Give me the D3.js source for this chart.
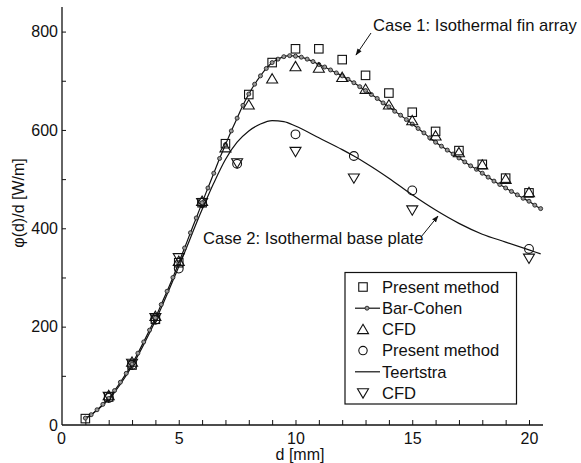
<!DOCTYPE html>
<html>
<head>
<meta charset="utf-8">
<script src="https://cdn.jsdelivr.net/npm/d3@7"></script>
<style>
  html, body { margin: 0; padding: 0; background: #fff; }
  svg { display: block; font-family: "Liberation Sans", Arial, sans-serif; }
</style>
</head>
<body>
<svg id="chart" width="581" height="463"></svg>
<script>
// Case 1: isothermal fin array
const case1D = [1, 2, 3, 4, 5, 6, 7, 8, 9, 10, 11, 12, 13, 14, 15, 16, 17, 18, 19, 20];
const case1Present = [13, 57, 122, 215, 330, 452, 572, 672, 737, 765, 765, 743, 711, 675, 636, 597, 558, 530, 502, 472];
const case1CfdD = [2, 3, 4, 5, 6, 7, 8, 9, 10, 11, 12, 13, 14, 15, 16, 17, 18, 19, 20];
const case1Cfd = [60, 128, 221, 333, 455, 564, 651, 704, 729, 726, 707, 683, 651, 619, 588, 554, 529, 500, 473];

// Bar-Cohen correlation, sampled every 0.25 mm from 1 to 20.5 mm
const barCohenD = [1, 1.25, 1.5, 1.75, 2, 2.25, 2.5, 2.75, 3, 3.25, 3.5, 3.75, 4, 4.25, 4.5, 4.75,
  5, 5.25, 5.5, 5.75, 6, 6.25, 6.5, 6.75, 7, 7.25, 7.5, 7.75, 8, 8.25, 8.5, 8.75,
  9, 9.25, 9.5, 9.75, 10, 10.25, 10.5, 10.75, 11, 11.25, 11.5, 11.75, 12, 12.25, 12.5, 12.75,
  13, 13.25, 13.5, 13.75, 14, 14.25, 14.5, 14.75, 15, 15.25, 15.5, 15.75, 16, 16.25, 16.5, 16.75,
  17, 17.25, 17.5, 17.75, 18, 18.25, 18.5, 18.75, 19, 19.25, 19.5, 19.75, 20, 20.25, 20.5];
const barCohen = [14, 21, 31, 42, 54, 70, 87, 105, 124, 146, 169, 193, 218, 245, 272, 300,
  330, 360, 391, 421, 452, 482, 512, 542, 570, 598, 624, 650, 673, 693, 710, 725,
  737, 744, 749, 751, 750, 748, 744, 739, 733, 728, 722, 716, 710, 703, 696, 688,
  680, 672, 664, 655, 647, 638, 630, 621, 612, 603, 594, 584, 575, 567, 559, 551,
  543, 535, 527, 520, 512, 504, 496, 489, 482, 475, 468, 461, 455, 447, 440];

// Case 2: isothermal base plate
const case2D = [2, 3, 4, 5, 6, 7.5, 10, 12.5, 15, 20];
const case2Present = [55, 122, 214, 318, 452, 531, 591, 547, 477, 358];
const case2Cfd = [58, 125, 218, 340, 452, 533, 556, 502, 437, 339];

// Teertstra correlation
const teertstraD = [1, 2, 3, 4, 5, 6, 6.5, 7, 7.5, 8, 8.5, 9, 9.5, 10, 11, 12, 12.5, 13, 14, 15, 16, 17, 18, 19, 20, 20.5];
const teertstra = [12, 52, 120, 212, 322, 438, 492, 540, 575, 598, 612, 619, 617, 608, 584, 560, 547, 533, 502, 468, 437, 410, 388, 372, 356, 348];

const xTickLabels = [0, 5, 10, 15, 20];
const yTickLabels = [0, 200, 400, 600, 800];

const legendLabels = ["Present method", "Bar-Cohen", "CFD", "Present method", "Teertstra", "CFD"];

const svg = d3.select("#chart");
const x = d3.scaleLinear().domain([0, 20.6]).range([62, 543]);
const y = d3.scaleLinear().domain([0, 850]).range([425, 7]);
const ink = "#111";
const fontSize = 16;
const textSize = 16.6;

// axes: ticks point inward, labels only on major ticks
const xAxis = d3.axisBottom(x)
  .tickValues(d3.range(0, 21, 1))
  .tickSize(-5)
  .tickPadding(8)
  .tickFormat(d => xTickLabels.includes(d) ? d : "");
const gx = svg.append("g").attr("transform", `translate(0,${y(0)})`).call(xAxis);
gx.select(".domain").attr("d", `M${x(0)},0H${x(20.6)}`);

const yAxis = d3.axisLeft(y)
  .tickValues(d3.range(0, 801, 100))
  .tickSize(-4)
  .tickPadding(4)
  .tickFormat(d => yTickLabels.includes(d) ? d : "");
const gy = svg.append("g").attr("transform", `translate(${x(0)},0)`).call(yAxis);
gy.select(".domain").attr("d", `M0,${y(0)}V${y(850)}`);

[gx, gy].forEach(g => {
  g.select(".domain").attr("stroke", ink).attr("stroke-width", 1.3);
  g.selectAll(".tick line").attr("stroke", ink).attr("stroke-width", 1);
  g.selectAll(".tick text").attr("fill", ink).attr("font-size", fontSize)
    .attr("font-family", "Liberation Sans, Arial, sans-serif");
});
gx.selectAll(".tick").filter(d => d === 0).select("line").remove();
gy.selectAll(".tick").filter(d => d === 0).select("line").remove();
gx.selectAll(".tick").filter(d => d === 0).select("text").attr("dx", -1);

// axis titles
svg.append("text")
  .attr("x", 300).attr("y", 460)
  .attr("text-anchor", "middle").attr("font-size", fontSize).attr("fill", ink)
  .text("d [mm]");
svg.append("text")
  .attr("transform", "translate(24,203) rotate(-90)")
  .attr("text-anchor", "middle").attr("font-size", fontSize).attr("fill", ink)
  .text("φ(d)/d [W/m]");

// marker shapes
function square(g, cx, cy, s) {
  g.append("rect").attr("x", cx - s / 2).attr("y", cy - s / 2).attr("width", s).attr("height", s)
    .attr("fill", "none").attr("stroke", ink).attr("stroke-width", 1.1);
}
function triUp(g, cx, cy, w) {
  const h = w * 0.85;
  g.append("path").attr("d", `M${cx},${cy - h * 0.55}L${cx + w / 2},${cy + h * 0.45}L${cx - w / 2},${cy + h * 0.45}Z`)
    .attr("fill", "none").attr("stroke", ink).attr("stroke-width", 1.1);
}
function triDown(g, cx, cy, w) {
  const h = w * 0.85;
  g.append("path").attr("d", `M${cx},${cy + h * 0.55}L${cx + w / 2},${cy - h * 0.45}L${cx - w / 2},${cy - h * 0.45}Z`)
    .attr("fill", "none").attr("stroke", ink).attr("stroke-width", 1.1);
}
function circ(g, cx, cy, r) {
  g.append("circle").attr("cx", cx).attr("cy", cy).attr("r", r)
    .attr("fill", "none").attr("stroke", ink).attr("stroke-width", 1.1);
}
function dot(g, cx, cy) {
  g.append("circle").attr("cx", cx).attr("cy", cy).attr("r", 2)
    .attr("fill", "#999").attr("stroke", "#222").attr("stroke-width", 0.9);
}

const line = d3.line().x(d => x(d[0])).y(d => y(d[1])).curve(d3.curveMonotoneX);

// Teertstra curve
svg.append("path")
  .datum(teertstraD.map((d, i) => [d, teertstra[i]]))
  .attr("d", line).attr("fill", "none").attr("stroke", ink).attr("stroke-width", 1.2);

// Bar-Cohen curve with sample markers
const bc = barCohenD.map((d, i) => [d, barCohen[i]]);
svg.append("path").datum(bc).attr("d", line)
  .attr("fill", "none").attr("stroke", ink).attr("stroke-width", 1.2);
const gbc = svg.append("g");
bc.forEach(p => dot(gbc, x(p[0]), y(p[1])));

// measured / simulated points
const gm = svg.append("g");
case1D.forEach((d, i) => square(gm, x(d), y(case1Present[i]), 8.5));
case1CfdD.forEach((d, i) => triUp(gm, x(d), y(case1Cfd[i]), 11));
case2D.forEach((d, i) => circ(gm, x(d), y(case2Present[i]), 4.4));
case2D.forEach((d, i) => triDown(gm, x(d), y(case2Cfd[i]), 11));

// annotations with arrows
svg.append("defs").append("marker")
  .attr("id", "arrow").attr("viewBox", "0 0 10 10").attr("refX", 9).attr("refY", 5)
  .attr("markerWidth", 7).attr("markerHeight", 7).attr("orient", "auto")
  .append("path").attr("d", "M0,1.5L10,5L0,8.5Z").attr("fill", ink);

svg.append("text").attr("x", 373).attr("y", 31).attr("font-size", textSize).attr("fill", ink)
  .text("Case 1: Isothermal fin array");
svg.append("line").attr("x1", 371).attr("y1", 33).attr("x2", 356).attr("y2", 55)
  .attr("stroke", ink).attr("stroke-width", 1).attr("marker-end", "url(#arrow)");

svg.append("text").attr("x", 203).attr("y", 244).attr("font-size", textSize).attr("fill", ink)
  .text("Case 2: Isothermal base plate");
svg.append("line").attr("x1", 421).attr("y1", 237).attr("x2", 438).attr("y2", 216)
  .attr("stroke", ink).attr("stroke-width", 1).attr("marker-end", "url(#arrow)");

// legend
const lg = svg.append("g");
lg.append("rect").attr("x", 345).attr("y", 272.5).attr("width", 171.5).attr("height", 131.5)
  .attr("fill", "#fff").attr("stroke", ink).attr("stroke-width", 1.2);
const rowY = i => 287 + i * 21.2;
const symX = 363;
legendLabels.forEach((t, i) => {
  lg.append("text").attr("x", 382).attr("y", rowY(i) + 5.8)
    .attr("font-size", textSize).attr("fill", ink).text(t);
});
square(lg, symX, rowY(0), 8.5);
lg.append("line").attr("x1", 355).attr("x2", 380).attr("y1", rowY(1)).attr("y2", rowY(1))
  .attr("stroke", ink).attr("stroke-width", 1.2);
dot(lg, 367, rowY(1));
triUp(lg, symX, rowY(2), 11);
circ(lg, symX, rowY(3), 4.2);
lg.append("line").attr("x1", 355).attr("x2", 380).attr("y1", rowY(4)).attr("y2", rowY(4))
  .attr("stroke", ink).attr("stroke-width", 1.2);
triDown(lg, symX, rowY(5), 11);
</script>
</body>
</html>
